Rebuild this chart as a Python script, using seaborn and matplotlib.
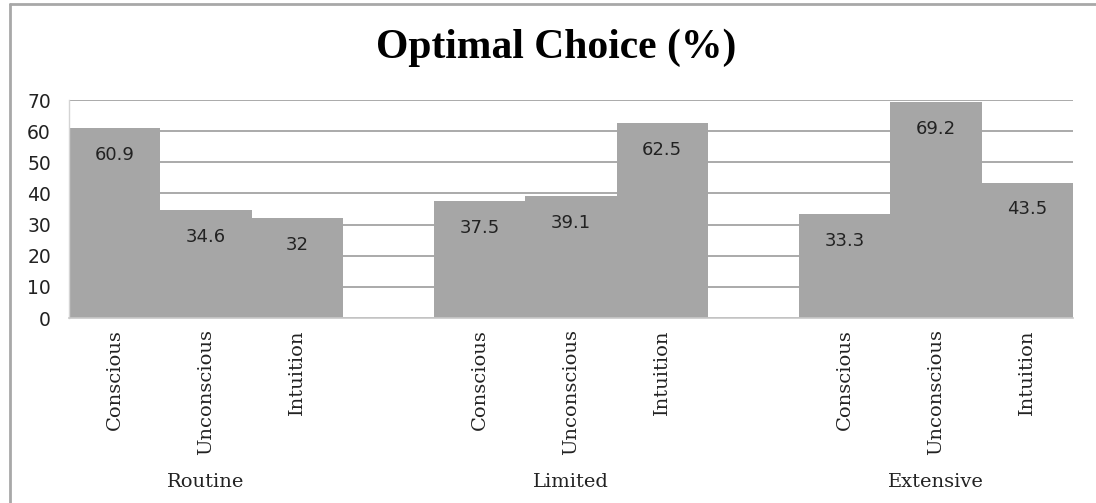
import matplotlib

matplotlib.use("Agg")
import matplotlib.pyplot as plt  # noqa: E402
from matplotlib.lines import Line2D  # noqa: E402
import pandas as pd  # noqa: E402
import seaborn as sns  # noqa: E402

# dados
grupos = ["Routine", "Limited", "Extensive"]
metodos = ["Conscious", "Unconscious", "Intuition"]
routine = [60.9, 34.6, 32]
limited = [37.5, 39.1, 62.5]
extensive = [33.3, 69.2, 43.5]
yticks = [0, 10, 20, 30, 40, 50, 60, 70]

COR_BARRA = "#a6a6a6"
COR_GRADE = "#9c9c9c"

linhas = []
ordem = []
rotulos = []
for i, (grupo, valores) in enumerate(zip(grupos, [routine, limited, extensive])):
    if i > 0:
        ordem.append(f"vazio{i}")
        rotulos.append("")
    for metodo, valor in zip(metodos, valores):
        chave = f"{grupo}|{metodo}"
        linhas.append({"slot": chave, "grupo": grupo, "metodo": metodo, "valor": valor})
        ordem.append(chave)
        rotulos.append(metodo)
df = pd.DataFrame(linhas)

sns.set_theme(style="white")
plt.rcParams["font.family"] = ["DejaVu Sans"]

fig = plt.figure(figsize=(10.96, 5.03), dpi=100)
ax = fig.add_axes([69 / 1096, 1 - 318 / 503, (1073 - 69) / 1096, (318 - 100) / 503])

sns.barplot(data=df, x="slot", y="valor", order=ordem, color=COR_BARRA,
            saturation=1, width=1.0, errorbar=None, linewidth=0, ax=ax, zorder=2)

ax.set_xlim(-0.5, len(ordem) - 0.5)
ax.set_ylim(0, 70)
ax.set_yticks(yticks)
ax.set_yticklabels([str(v) for v in yticks], fontsize=13.5, color="#222222")
ax.yaxis.grid(True, color=COR_GRADE, linewidth=1.2, zorder=0)
ax.set_axisbelow(True)
ax.tick_params(axis="y", length=0, pad=13)
ax.tick_params(axis="x", length=0, pad=8)
ax.set_xticks(range(len(ordem)))
ax.set_xticklabels(rotulos, rotation=90, fontsize=14, family="DejaVu Serif", color="#222222")
ax.set_xlabel("")
ax.set_ylabel("")

for lado in ["top", "right"]:
    ax.spines[lado].set_visible(False)
ax.spines["left"].set_color("#d4d4d4")
ax.spines["left"].set_linewidth(1)
ax.spines["bottom"].set_color("#c8c8c8")
ax.spines["bottom"].set_linewidth(1.2)

# rotulos de valor dentro das barras
for _, linha in df.iterrows():
    x = ordem.index(linha["slot"])
    ax.annotate(f"{linha['valor']:g}", xy=(x, linha["valor"]), xytext=(0, -19),
                textcoords="offset points", ha="center", va="center",
                fontsize=13, color="#222222", zorder=3)

# nomes dos grupos abaixo dos rotulos
for grupo in grupos:
    posicoes = [ordem.index(f"{grupo}|{m}") for m in metodos]
    centro = sum(posicoes) / len(posicoes)
    ax.annotate(grupo, xy=(centro, 0), xycoords=ax.get_xaxis_transform(),
                xytext=(0, -118), textcoords="offset points", ha="center", va="center",
                fontsize=14, family="DejaVu Serif", color="#222222")

fig.text(556 / 1096, 1 - 48 / 503, "Optimal Choice (%)", ha="center", va="center",
         fontsize=30, fontweight="bold", family="Liberation Serif", color="black")

# moldura do grafico (so topo e esquerda aparecem no recorte)
fig.add_artist(Line2D([10 / 1096, 10 / 1096], [0, 1 - 4 / 503], transform=fig.transFigure,
                      color="#a8a8a8", linewidth=2))
fig.add_artist(Line2D([10 / 1096, 1], [1 - 4 / 503, 1 - 4 / 503], transform=fig.transFigure,
                      color="#a8a8a8", linewidth=2))

fig.savefig("out.png", dpi=100, facecolor="white")
plt.close(fig)
